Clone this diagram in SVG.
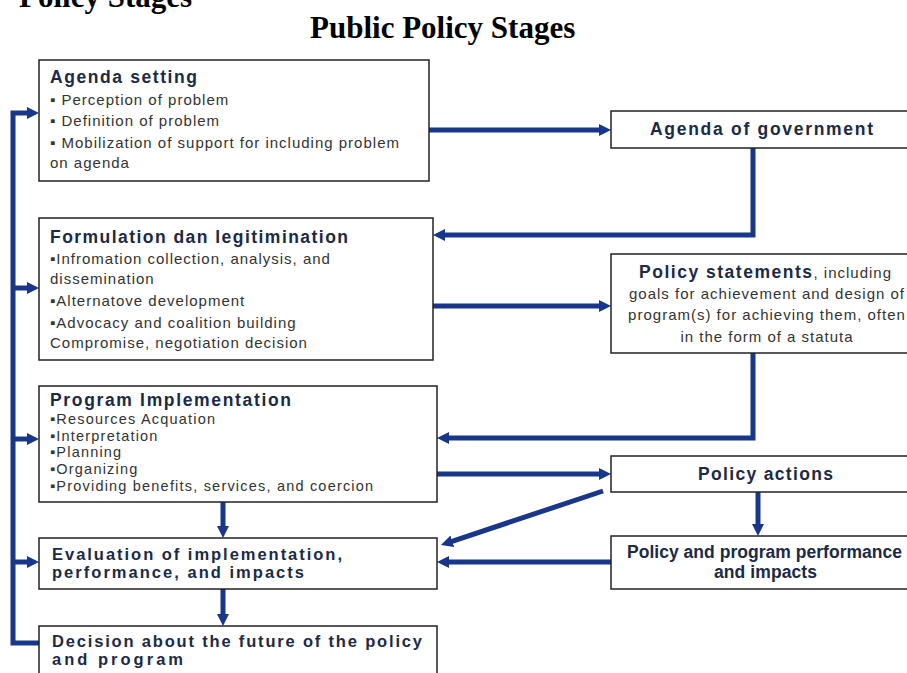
<svg xmlns="http://www.w3.org/2000/svg" width="907" height="673" viewBox="0 0 907 673">
<defs>
<style>
.box{fill:#fff;stroke:#222;stroke-width:1.5}
.title{font-family:"Liberation Serif","Times New Roman",serif;font-weight:bold;font-size:31px;fill:#000}
.hd{font-family:"Liberation Sans",Arial,sans-serif;font-weight:bold;font-size:17.5px;fill:#1b2a45}
.hd2{font-family:"Liberation Sans",Arial,sans-serif;font-weight:bold;font-size:16.5px;fill:#1b2a45}
.bd{font-family:"Liberation Sans",Arial,sans-serif;font-size:15px;letter-spacing:1px;fill:#333}
.bds{font-family:"Liberation Sans",Arial,sans-serif;font-size:14.5px;letter-spacing:1.2px;fill:#333}
.cn{fill:none;stroke:#18368a;stroke-width:5;stroke-linejoin:miter}
.ar{marker-end:url(#ah)}
</style>
<marker id="ah" markerUnits="userSpaceOnUse" markerWidth="12" markerHeight="12" refX="5" refY="6" orient="auto">
<path d="M0,0 L12,6 L0,12 z" fill="#18368a"/>
</marker>
</defs>
<rect width="907" height="673" fill="#fff"/>
<text class="title" x="19" y="7">Policy Stages</text>
<text class="title" x="310" y="38">Public Policy Stages</text>

<g id="connectors">
<line class="cn ar" x1="429" y1="130" x2="604" y2="130"/>
<polyline class="cn ar" points="753,148 753,235 440,235"/>
<line class="cn ar" x1="433" y1="306" x2="604" y2="306"/>
<polyline class="cn ar" points="753,353 753,438 444,438"/>
<line class="cn ar" x1="437" y1="474" x2="604" y2="474"/>
<line class="cn ar" x1="758" y1="492" x2="758" y2="529"/>
<line class="cn ar" x1="603" y1="491" x2="447.6" y2="542.8"/>
<line class="cn ar" x1="611" y1="562" x2="444" y2="562"/>
<line class="cn ar" x1="223" y1="502" x2="223" y2="531"/>
<line class="cn ar" x1="223" y1="589" x2="223" y2="619"/>
<polyline class="cn ar" points="39,643 13,643 13,113 32,113"/>
<line class="cn ar" x1="13" y1="288" x2="32" y2="288"/>
<line class="cn ar" x1="13" y1="439" x2="32" y2="439"/>
<line class="cn ar" x1="13" y1="562" x2="32" y2="562"/>
</g>

<g id="agenda-setting">
<rect class="box" x="39" y="60" width="390" height="121"/>
<text class="hd" x="50" y="83" textLength="147" lengthAdjust="spacing">Agenda setting</text>
<text class="bd" x="50" y="105">▪ Perception of problem</text>
<text class="bd" x="50" y="126">▪ Definition of problem</text>
<text class="bd" x="50" y="148">▪ Mobilization of support for including problem</text>
<text class="bd" x="50" y="168">on agenda</text>
</g>

<g id="agenda-government">
<rect class="box" x="611" y="111" width="310" height="37"/>
<text class="hd" x="650" y="135" textLength="223" lengthAdjust="spacing">Agenda of government</text>
</g>

<g id="formulation">
<rect class="box" x="39" y="218" width="394" height="142"/>
<text class="hd" x="50" y="243" textLength="298" lengthAdjust="spacing">Formulation dan legitimination</text>
<text class="bd" x="50" y="264">▪Infromation collection, analysis, and</text>
<text class="bd" x="50" y="284">dissemination</text>
<text class="bd" x="50" y="306">▪Alternatove development</text>
<text class="bd" x="50" y="328">▪Advocacy and coalition building</text>
<text class="bd" x="50" y="348">Compromise, negotiation decision</text>
</g>

<g id="policy-statements">
<rect class="box" x="611" y="254" width="310" height="99"/>
<text x="639" y="278"><tspan class="hd" textLength="173" lengthAdjust="spacing">Policy statements</tspan><tspan class="bd">, including</tspan></text>
<text class="bd" x="767" y="299" text-anchor="middle">goals for achievement and design of</text>
<text class="bd" x="767" y="320" text-anchor="middle">program(s) for achieving them, often</text>
<text class="bd" x="767" y="342" text-anchor="middle">in the form of a statuta</text>
</g>

<g id="program-implementation">
<rect class="box" x="39" y="386" width="398" height="116"/>
<text class="hd" x="50" y="406" textLength="241" lengthAdjust="spacing">Program Implementation</text>
<text class="bds" x="50" y="424">▪Resources Acquation</text>
<text class="bds" x="50" y="441">▪Interpretation</text>
<text class="bds" x="50" y="457">▪Planning</text>
<text class="bds" x="50" y="474">▪Organizing</text>
<text class="bds" x="50" y="491">▪Providing benefits, services, and coercion</text>
</g>

<g id="policy-actions">
<rect class="box" x="611" y="456" width="310" height="36"/>
<text class="hd" x="698" y="480" textLength="135" lengthAdjust="spacing">Policy actions</text>
</g>

<g id="performance">
<rect class="box" x="611" y="536" width="310" height="53"/>
<text class="hd" x="627" y="558" textLength="275" lengthAdjust="spacing">Policy and program performance</text>
<text class="hd" x="714" y="578" textLength="103" lengthAdjust="spacing">and impacts</text>
</g>

<g id="evaluation">
<rect class="box" x="39" y="538" width="398" height="51"/>
<text class="hd2" x="52" y="560" textLength="290" lengthAdjust="spacing">Evaluation of implementation,</text>
<text class="hd2" x="52" y="578" textLength="252" lengthAdjust="spacing">performance, and impacts</text>
</g>

<g id="decision">
<rect class="box" x="39" y="626" width="398" height="60"/>
<text class="hd2" x="52" y="647" textLength="370" lengthAdjust="spacing">Decision about the future of the policy</text>
<text class="hd2" x="52" y="665" textLength="131" lengthAdjust="spacing">and program</text>
</g>
</svg>
